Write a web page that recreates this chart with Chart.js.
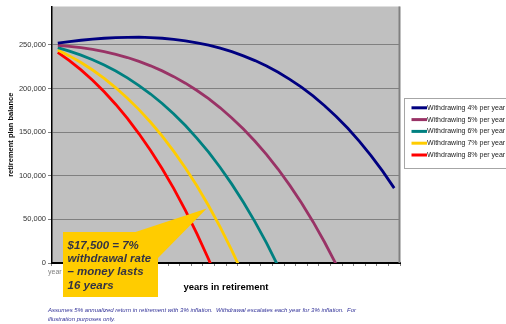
<!DOCTYPE html>
<html>
<head>
<meta charset="utf-8">
<script src="https://cdn.jsdelivr.net/npm/chart.js@4.4.1/dist/chart.umd.min.js"></script>
<style>
  html, body { margin: 0; padding: 0; background: #fff; }
  #wrap { width: 506px; height: 324px; position: relative; }
</style>
</head>
<body>
<div id="wrap"><canvas id="c" width="506" height="324"></canvas></div>
<script>
// Years of retirement (category axis)
const years = ['year 1','year 2','year 3','year 4','year 5','year 6','year 7','year 8','year 9','year 10',
  'year 11','year 12','year 13','year 14','year 15','year 16','year 17','year 18','year 19','year 20',
  'year 21','year 22','year 23','year 24','year 25','year 26','year 27','year 28','year 29','year 30'];

// Plan balance at each year, per withdrawal rate
const withdraw4 = [252000, 253800, 255300, 256600, 257600, 258400, 258700, 258800, 258400, 257600,
  256400, 254700, 252400, 249600, 246200, 242200, 237400, 232000, 225700, 218600,
  210500, 201500, 191500, 180300, 168000, 154400, 139500, 123100, 105300, 85800];
const withdraw5 = [249400, 248300, 246800, 244800, 242300, 239200, 235500, 231100, 226000, 220200,
  213600, 206100, 197700, 188300, 177900, 166300, 153500, 139500, 124200, 107400,
  89000, 69100, 47400, 23800, -1700];
const withdraw6 = [246800, 242900, 238300, 233000, 226900, 220000, 212200, 203400, 193700, 182800,
  170800, 157500, 142900, 127000, 109500, 90400, 69700, 47100, 22700, -3800];
const withdraw7 = [244100, 237400, 229800, 221200, 211600, 200800, 188900, 175800, 161300, 145400,
  128000, 108900, 88200, 65600, 41100, 14500, -14200];
const withdraw8 = [241500, 231900, 221300, 209400, 196200, 181700, 165700, 148100, 128900, 108000,
  85200, 60400, 33400, 4300, -27300];

const seriesNames = ['Withdrawing 4% per year', 'Withdrawing 5% per year', 'Withdrawing 6% per year',
  'Withdrawing 7% per year', 'Withdrawing 8% per year'];
const seriesColors = ['#000080', '#993366', '#008080', '#ffcc00', '#ff0000'];

// Y axis tick values
const yTicks = [0, 50000, 100000, 150000, 200000, 250000];
const yMax = 294000;

// Callout text and the point on the 7% curve it refers to
const calloutLines = ['$17,500 = 7%', 'withdrawal rate', '\u2013 money lasts', '16 years'];
const calloutTarget = { index: 12.84, value: 62500 };

const footnote = [
  'Assumes 5% annualized return in retirement with 3% inflation.  Withdrawal escalates each year for 3% inflation.  For',
  'illustration purposes only.'
];

const FONT = "'Liberation Sans', Arial, sans-serif";

const plotFrame = {
  id: 'plotFrame',
  beforeDraw(chart) {
    const { ctx, chartArea: a } = chart;
    ctx.save();
    ctx.fillStyle = '#ffffff';
    ctx.fillRect(0, 0, chart.width, chart.height);
    ctx.fillStyle = '#c0c0c0';
    ctx.fillRect(a.left, a.top, a.right - a.left, a.bottom - a.top);
    ctx.restore();
  },
  afterDatasetsDraw(chart) {
    const { ctx, chartArea: a } = chart;
    ctx.save();
    ctx.strokeStyle = '#808080';
    ctx.lineWidth = 2;
    ctx.beginPath();
    ctx.moveTo(a.right - 0.5, a.top);
    ctx.lineTo(a.right - 0.5, a.bottom);
    ctx.stroke();
    ctx.restore();
  }
};

const sideLegend = {
  id: 'sideLegend',
  afterDraw(chart) {
    const { ctx } = chart;
    ctx.save();
    ctx.fillStyle = '#ffffff';
    ctx.fillRect(404.5, 98.5, 110, 70);
    ctx.strokeStyle = '#a6a6a6';
    ctx.lineWidth = 1;
    ctx.strokeRect(404.5, 98.5, 110, 70);
    ctx.font = '7px ' + FONT;
    ctx.textBaseline = 'middle';
    ctx.textAlign = 'left';
    chart.data.datasets.forEach((ds, i) => {
      const y = 107.8 + i * 11.8;
      ctx.strokeStyle = ds.borderColor;
      ctx.lineWidth = 3;
      ctx.beginPath();
      ctx.moveTo(411.5, y);
      ctx.lineTo(427, y);
      ctx.stroke();
      ctx.fillStyle = '#222222';
      ctx.fillText(ds.label, 427, y);
    });
    ctx.restore();
  }
};

const callout = {
  id: 'callout',
  afterDraw(chart) {
    const { ctx } = chart;
    const xs = chart.scales.x, ys = chart.scales.y;
    const tipX = xs.getPixelForValue(calloutTarget.index);
    const tipY = ys.getPixelForValue(calloutTarget.value);
    ctx.save();
    ctx.fillStyle = '#ffcc00';
    ctx.fillRect(63, 232, 95, 65);
    ctx.beginPath();
    ctx.moveTo(134, 232.5);
    ctx.lineTo(tipX, tipY);
    ctx.lineTo(157.5, 258.5);
    ctx.lineTo(157.5, 232.5);
    ctx.closePath();
    ctx.fill();
    ctx.fillStyle = '#333344';
    ctx.font = 'italic bold 11.5px ' + FONT;
    ctx.textBaseline = 'alphabetic';
    ctx.textAlign = 'left';
    calloutLines.forEach((t, i) => ctx.fillText(t, 67.5, 249 + i * 13.2));

    // footnote
    ctx.fillStyle = '#333399';
    ctx.font = 'italic 6px ' + FONT;
    ctx.textBaseline = 'middle';
    footnote.forEach((t, i) => ctx.fillText(t, 48, 310.5 + i * 8.5));
    ctx.restore();
  }
};

const seriesData = [withdraw4, withdraw5, withdraw6, withdraw7, withdraw8];

new Chart(document.getElementById('c'), {
  type: 'line',
  data: {
    labels: years,
    datasets: seriesData.map((d, i) => ({
      label: seriesNames[i],
      data: d,
      borderColor: seriesColors[i],
      backgroundColor: seriesColors[i],
      borderWidth: 2.8,
      pointRadius: 0,
      tension: 0,
      clip: 0,
      fill: false
    }))
  },
  options: {
    responsive: false,
    animation: false,
    events: [],
    layout: { padding: { top: 5, right: 106, left: 0, bottom: 0 } },
    plugins: { legend: { display: false }, tooltip: { enabled: false } },
    scales: {
      x: {
        type: 'category',
        offset: true,
        afterFit(scale) { scale.height = 61; },
        grid: { display: true, offset: true, drawOnChartArea: false, drawTicks: true, tickLength: 3, color: '#808080', lineWidth: 1 },
        border: { display: true, color: '#000000', width: 2 },
        ticks: {
          autoSkip: false, maxRotation: 0, minRotation: 0, padding: 2,
          color: '#808080',
          font: { family: FONT, size: 7 },
          callback(v, i) { return i === 0 ? this.getLabelForValue(v) : ''; }
        },
        title: {
          display: true, text: 'years in retirement', color: '#000000',
          font: { family: FONT, size: 9.5, weight: 'bold' },
          padding: { top: 0, bottom: 30.5 }
        }
      },
      y: {
        min: 0, max: yMax,
        afterFit(scale) { scale.width = 52; },
        afterBuildTicks(scale) { scale.ticks = yTicks.map(v => ({ value: v })); },
        grid: { display: true, drawTicks: true, tickLength: 4, color: '#808080', lineWidth: 1 },
        border: { display: true, color: '#000000', width: 1.5 },
        ticks: {
          padding: 2, color: '#333333',
          font: { family: FONT, size: 7.5 },
          callback(v) { return v.toLocaleString('en-US'); }
        },
        title: {
          display: true, text: 'retirement plan balance', color: '#000000',
          font: { family: FONT, size: 7.5, weight: 'bold' },
          padding: { top: 6, bottom: 0 }
        }
      }
    }
  },
  plugins: [plotFrame, callout, sideLegend]
});
</script>
</body>
</html>
